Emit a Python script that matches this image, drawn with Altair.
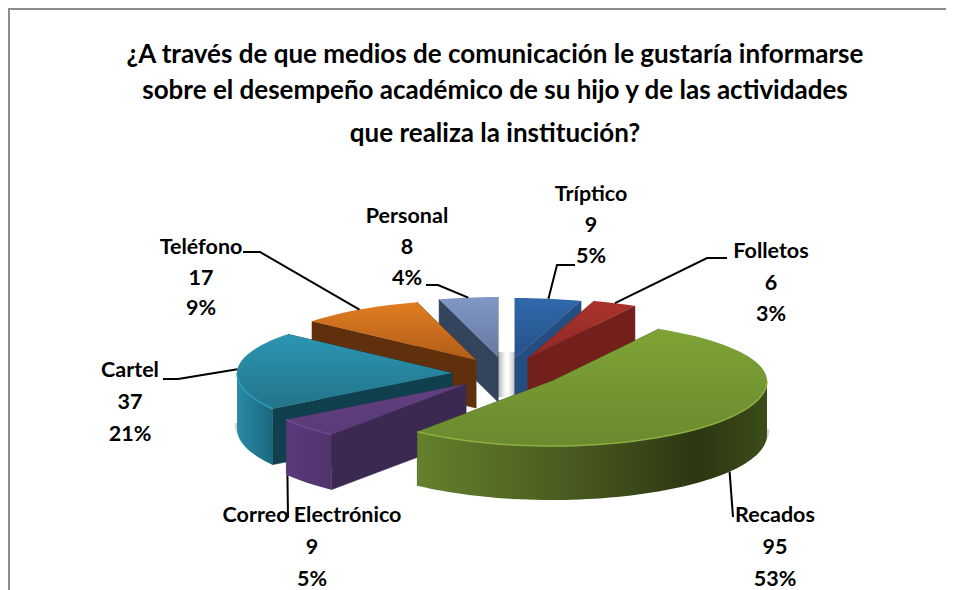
import math
import altair as alt

# ---- chart values
categories = ["Tríptico", "Folletos", "Recados", "Correo Electrónico", "Cartel", "Teléfono", "Personal"]
counts = [9, 6, 95, 9, 37, 17, 8]
percents = ["5%", "3%", "53%", "5%", "21%", "9%", "4%"]
title_lines = [
    "¿A través de que medios de comunicación le gustaría informarse",
    "sobre el desempeño académico de su hijo y de las actividades",
    "que realiza la institución?",
]

# ---- 3D layout (page pixels)
RX, RY_BACK, RY_FRONT = 215, 60, 65
apex = {
    "Tríptico": (515, 358, 45), "Folletos": (528, 358, 45), "Recados": (552, 381, 54),
    "Correo Electrónico": (466, 384, 55), "Cartel": (452, 373, 56),
    "Teléfono": (476, 360, 48), "Personal": (498, 357, 45),
}
paint_order = ["Personal", "Tríptico", "Folletos", "Teléfono", "Cartel", "Correo Electrónico", "Recados"]
top_stops = {
    "Tríptico": ("#3069ab", "#26508a"), "Folletos": ("#a9332c", "#8f2a25"),
    "Recados": ("#7fa336", "#6a8a2e"), "Correo Electrónico": ("#62407f", "#5a3a78"),
    "Cartel": ("#2b96b2", "#237489"), "Teléfono": ("#e17d22", "#b15d18"),
    "Personal": ("#8098c6", "#67799f"),
}
wall_col = {
    "Tríptico": "#244d82", "Folletos": "#731f1c", "Recados": "#3a4a18",
    "Correo Electrónico": "#3c2952", "Cartel": "#103f4e", "Teléfono": "#60300d",
    "Personal": "#34445c",
}
rim_stops = {
    "Recados": [(0, "#64802c"), (0.45, "#48591f"), (0.8, "#2b3711"), (1, "#3c4c19")],
    "Correo Electrónico": [(0, "#5a3a7c"), (1, "#50346c")],
    "Cartel": [(0, "#2a8aa6"), (1, "#1a687d")],
}
highlight = {"Recados": "#8eb041", "Correo Electrónico": "#6e4a90", "Cartel": "#2f9cb8"}
side_shadow = {"Recados": (90, 115), "Cartel": (240, 270)}
leader_frac = {"Correo Electrónico": 0.97}
label_xy = {
    "Tríptico": (591, 195, 31), "Folletos": (771, 252, 31.5), "Recados": (775, 516, 32),
    "Correo Electrónico": (312, 516, 32), "Cartel": (130, 371, 32),
    "Teléfono": (201, 248, 30.5), "Personal": (407, 217, 31),
}
leader_mid = {
    "Tríptico": [(575, 265), (557, 265)], "Folletos": [(727, 258), (707, 258)],
    "Recados": [(733, 517)], "Correo Electrónico": [(288, 518)],
    "Cartel": [(163, 379), (178, 379)], "Teléfono": [(243, 252), (260, 252)],
    "Personal": [(426, 285), (438, 285)],
}
M = 8  # page margin


def pt(name, deg, down=0):
    cx, cy, _ = apex[name]
    a = math.radians(deg)
    ry = RY_BACK if math.cos(a) >= 0 else RY_FRONT
    return [cx + RX * math.sin(a) - M, cy - ry * math.cos(a) + down - M]


def feat(kind, coords):
    return {"type": "Feature", "properties": {}, "geometry": {"type": kind, "coordinates": coords}}


def shape(features, **kw):
    return alt.Chart(alt.Data(values=features)).mark_geoshape(**kw).project(
        type="identity", scale=1, translate=[0, 0]
    )


def grad(stops, horizontal=False):
    return alt.LinearGradient(
        gradient="linear",
        x1=0, y1=0, x2=1 if horizontal else 0, y2=0 if horizontal else 1,
        stops=[alt.GradientStop(offset=o, color=c) for o, c in stops],
    )


total = sum(counts)
spans = {}
running = 0.0
for c, v in zip(categories, counts):
    spans[c] = (running, running + v / total * 360)
    running += v / total * 360

layers = []

# frame: top and left edges only, running off the page
layers.append(shape([feat("LineString", [[9 - M, 600], [9 - M, 9 - M], [960, 9 - M]])],
                    filled=False, stroke="#8c8c8c", strokeWidth=2))

# soft shadow between the two back slices
sx0, sy0, d0 = apex["Personal"]
sx1 = apex["Tríptico"][0]
layers.append(shape([feat("Polygon", [[[sx0 - M, sy0 - M - 5], [sx1 - M, sy0 - M - 5],
                                       [sx1 - M, sy0 - M + d0 - 5], [sx0 - M, sy0 - M + d0 - 5],
                                       [sx0 - M, sy0 - M - 5]]])],
                    fill=grad([(0, "#b4b4b4"), (0.45, "#ffffff"), (0.6, "#ffffff"), (1, "#c0c0c0")], True),
                    strokeWidth=0))

for name in paint_order:
    a0, a1 = spans[name]
    d = apex[name][2]
    n = max(3, int((a1 - a0) / 2))
    arc = [a0 + (a1 - a0) * i / n for i in range(n + 1)]
    cx, cy = apex[name][0] - M, apex[name][1] - M
    # faint shadow beside the rim
    if name in side_shadow:
        s0, s1 = side_shadow[name]
        layers.append(shape([feat("LineString", [pt(name, s0 + (s1 - s0) * i / 8, d - 6) for i in range(9)])],
                            filled=False, stroke="#c4c4c4", strokeWidth=5, strokeOpacity=0.7))
    # radial walls
    walls = []
    for e in (a0, a1):
        p, q = pt(name, e), pt(name, e, d)
        walls.append(feat("Polygon", [[[cx, cy], p, q, [cx, cy + d], [cx, cy]]]))
    layers.append(shape(walls, fill=wall_col[name], stroke=wall_col[name], strokeWidth=0.5))
    # outer rim (front part only)
    lo, hi = max(a0, 90), min(a1, 270)
    if hi > lo and name in rim_stops:
        m = max(3, int((hi - lo) / 2))
        rim_angles = [lo + (hi - lo) * i / m for i in range(m + 1)]
        upper = [pt(name, g) for g in rim_angles]
        lower = [pt(name, g, d) for g in reversed(rim_angles)]
        ring = upper + lower + [upper[0]]
        layers.append(shape([feat("Polygon", [ring])], fill=grad(rim_stops[name], True), strokeWidth=0))
    # top face
    ring = [[cx, cy]] + [pt(name, g) for g in arc] + [[cx, cy]]
    layers.append(shape([feat("Polygon", [ring])],
                        fill=grad([(0, top_stops[name][0]), (1, top_stops[name][1])]), strokeWidth=0))
    if hi > lo and name in highlight:
        layers.append(shape([feat("LineString", [pt(name, lo + (hi - lo) * i / m) for i in range(m + 1)])],
                            filled=False, stroke=highlight[name], strokeWidth=1.5))

# leader lines, ending on each slice's edge
leaders = []
for name in categories:
    a0, a1 = spans[name]
    ang = a0 + (a1 - a0) * leader_frac.get(name, 0.5)
    front = math.cos(math.radians(ang)) < 0
    end = pt(name, ang, apex[name][2] if front else 0)
    path = [[x - M, y - M] for x, y in leader_mid[name]] + [end]
    leaders.append(feat("LineString", path))
layers.append(shape(leaders, filled=False, stroke="#000000", strokeWidth=2))

# data labels
rows = []
for name, v, pc in zip(categories, counts, percents):
    x, y, step = label_xy[name]
    for i, t in enumerate([name, str(v), pc]):
        rows.append({"x": x - M, "y": y + i * step - M, "t": t})
layers.append(
    alt.Chart(alt.Data(values=rows)).mark_text(font="Lato", fontWeight="bold", fontSize=21.5, color="#000000",
                                               align="center", baseline="middle")
    .encode(x=alt.X("x:Q", scale=None, axis=None), y=alt.Y("y:Q", scale=None, axis=None), text="t:N")
)

# title
title_rows = [{"x": 495 - M, "y": y - M, "t": t} for y, t in zip([55, 91, 134], title_lines)]
layers.append(
    alt.Chart(alt.Data(values=title_rows)).mark_text(font="Lato", fontWeight="bold", fontSize=26, color="#000000",
                                                     align="center", baseline="middle")
    .encode(x=alt.X("x:Q", scale=None, axis=None), y=alt.Y("y:Q", scale=None, axis=None), text="t:N")
)

chart = alt.layer(*layers).properties(
    width=938, height=582, padding=0, autosize="none", background="#ffffff"
).configure_view(stroke=None)

chart.save("out.html", embed_options={"renderer": "svg", "actions": False})
